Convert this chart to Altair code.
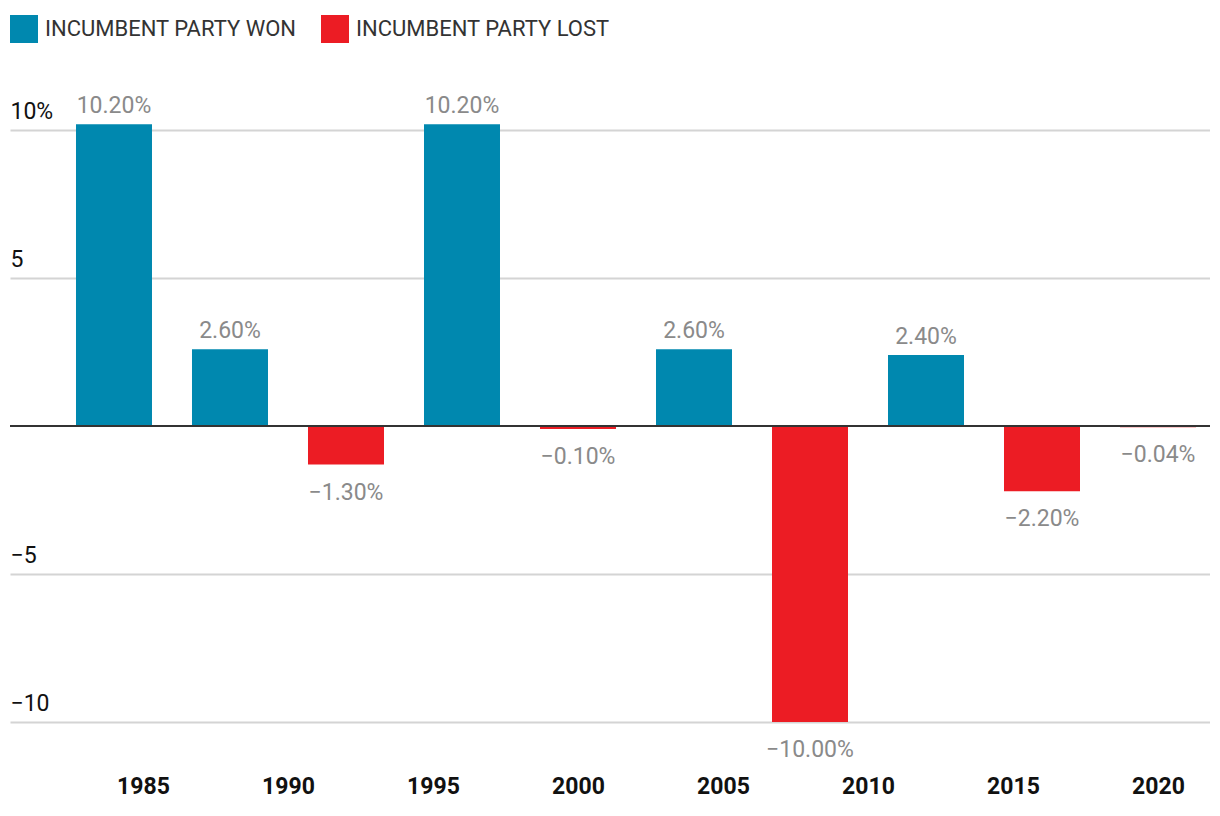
import altair as alt
import pandas as pd

years = [1984, 1988, 1992, 1996, 2000, 2004, 2008, 2012, 2016, 2020]
values = [10.2, 2.6, -1.3, 10.2, -0.1, 2.6, -10.0, 2.4, -2.2, -0.04]
outcomes = ["INCUMBENT PARTY WON", "INCUMBENT PARTY WON", "INCUMBENT PARTY LOST",
            "INCUMBENT PARTY WON", "INCUMBENT PARTY LOST", "INCUMBENT PARTY WON",
            "INCUMBENT PARTY LOST", "INCUMBENT PARTY WON", "INCUMBENT PARTY LOST",
            "INCUMBENT PARTY LOST"]
legend_labels = ["INCUMBENT PARTY WON", "INCUMBENT PARTY LOST"]
colors = ["#0088af", "#ec1c24"]
x_ticks = [1985, 1990, 1995, 2000, 2005, 2010, 2015, 2020]
y_ticks = [-10, -5, 5, 10]

df = pd.DataFrame({"year": years, "value": values, "outcome": outcomes})

FONT = "Roboto"

xscale = alt.Scale(domain=[1980.414, 2021.793], nice=False, zero=False, padding=0)
yscale = alt.Scale(domain=[-11.25, 12.0], nice=False, zero=False, padding=0)

x_enc = alt.X("year:Q", scale=xscale, axis=alt.Axis(
    values=x_ticks, format="d", title=None, domain=False, ticks=False, tickSize=0,
    grid=False, labelFontWeight="bold", labelFontSize=23, labelColor="#111111",
    labelPadding=16, labelFont=FONT))

y_enc = alt.Y("value:Q", scale=yscale, axis=alt.Axis(
    values=y_ticks, title=None, domain=False, ticks=False, tickSize=0,
    grid=True, gridColor="#d4d4d4", gridWidth=2,
    labelAlign="left", labelBaseline="alphabetic", labelOffset=-12, labelPadding=0,
    labelFontSize=23, labelColor="#111111", labelFont=FONT,
    labelExpr="datum.value == 10 ? '10%' : format(datum.value, 'd')"))

bars = alt.Chart(df).mark_bar(size=76).encode(
    x=x_enc, y=y_enc,
    color=alt.Color("outcome:N", scale=alt.Scale(domain=legend_labels, range=colors),
                    legend=alt.Legend(title=None, orient="none", legendX=0, legendY=-56,
                                      direction="horizontal", symbolType="square",
                                      symbolSize=784, symbolStrokeWidth=0,
                                      labelFontSize=22, labelColor="#333333",
                                      labelFont=FONT, labelOffset=7, columnPadding=24,
                                      labelLimit=400, padding=0, symbolOpacity=1))
)

pos_text = alt.Chart(df).transform_filter("datum.value >= 0").transform_calculate(
    label="format(datum.value, '.2f') + '%'"
).mark_text(dy=-11, baseline="alphabetic", fontSize=23, color="#8a8a8a", font=FONT).encode(
    x="year:Q", y="value:Q", text="label:N")

neg_text = alt.Chart(df).transform_filter("datum.value < 0").transform_calculate(
    label="format(datum.value, '.2f') + '%'"
).mark_text(dy=35, baseline="alphabetic", fontSize=23, color="#8a8a8a", font=FONT).encode(
    x="year:Q", y="value:Q", text="label:N")

zero = alt.Chart(pd.DataFrame({"z": [0]})).mark_rule(color="#333333", strokeWidth=2).encode(
    y=alt.Y("z:Q", scale=yscale))

chart = alt.layer(bars, zero, pos_text, neg_text).properties(
    width=1200, height=688,
    autosize=alt.AutoSizeParams(type="none"),
    padding={"left": 2, "top": 63, "right": 0, "bottom": 45},
).configure(font=FONT).configure_view(strokeWidth=0, stroke="transparent")

chart.save("out.html", embed_options={"renderer": "svg", "actions": False})
